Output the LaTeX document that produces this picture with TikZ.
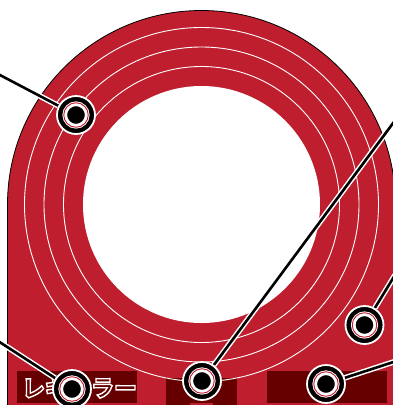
\documentclass[tikz,border=0pt]{standalone}
\usepackage{fontspec}
\newfontfamily\jpfont{Noto Sans CJK JP Black}
\usetikzlibrary{positioning}
\definecolor{TrackRed}{RGB}{190,30,45}
\definecolor{PlateDark}{RGB}{102,0,0}
\pgfdeclarelayer{base}
\pgfdeclarelayer{wires}
\pgfsetlayers{base,wires,main}
\tikzset{
  plate/.style={fill=PlateDark,draw=none,inner sep=0pt,anchor=north west},
  lane/.style={circle,draw=white,line width=0.9pt,inner sep=0pt},
  leader/.style={draw=white,double=black,double distance=2.6pt,line width=1.5pt},
  pinout/.style={circle,fill=black,draw=white,line width=1.8pt,minimum size=38pt,inner sep=0pt},
  pinmid/.style={circle,fill=white,draw=white,double=TrackRed,double distance=0.9pt,line width=0.9pt,minimum size=24.5pt,inner sep=0pt},
  pindot/.style={circle,fill=black,draw=white,line width=1.2pt,minimum size=19pt,inner sep=0pt}
}
\begin{document}
\begin{tikzpicture}[x=1pt,y=-1pt]
  \useasboundingbox (0,0) rectangle (393,405);
  \begin{pgfonlayer}{base}
    % body and hole
    \fill[white] (0,0) rectangle (393,405);
    \draw[fill=TrackRed,draw=black,line width=0.8pt] (7.5,420) -- (7.5,204.5) arc[start angle=180,end angle=360,radius=194] -- (395.5,420);
    \node[plate,minimum width=120pt,minimum height=32pt] (regular) at (17,371) {};
    \node[plate,minimum width=71pt,minimum height=27pt] (middle) at (166,378) {};
    \node[plate,fill=TrackRed,minimum width=23pt,minimum height=3pt] (notch) at (190,402.5) {};
    \node[plate,minimum width=120pt,minimum height=32pt] (wide) at (267,371) {};
    \node[circle,fill=white,inner sep=0pt,minimum size=237pt] (hole) at (201.5,204.5) {};
    \foreach \r/\nm in {177/lanea,157.5/laneb,138/lanec}
      \node[lane,minimum size=2*\r pt] (\nm) at (201.5,204.5) {};
    \node[text=PlateDark,font=\jpfont\fontsize{23}{23}\selectfont,inner sep=0pt] (label) at (79.5,387.5)
      {\special{pdf:code q 2 Tr 1.4 w 1 1 1 RG}レギュラー\special{pdf:code Q}};
  \end{pgfonlayer}
  % pins
  \foreach \nm/\x/\y in {pa/76/115,pb/72/389,pc/202/381,pd/364.5/325,pe/326/384} {
    \node[pinout] (\nm) at (\x,\y) {};
    \node[pinmid] (\nm mid) at (\nm) {};
    \node[pindot] (\nm dot) at (\nm) {};
  }
  \coordinate (ea) at (-2,74);
  \coordinate (eb) at (-2,341);
  \coordinate (ec) at (395,120.5);
  \coordinate (ed) at (395,275);
  \coordinate (ee) at (395,361.5);
  \begin{pgfonlayer}{wires}
    \draw[leader] (ea) -- (pa);
    \draw[leader] (eb) -- (pb);
    \draw[leader] (ec) -- (pc);
    \draw[leader] (ed) -- (pd);
    \draw[leader] (ee) -- (pe);
  \end{pgfonlayer}
\end{tikzpicture}
\end{document}
